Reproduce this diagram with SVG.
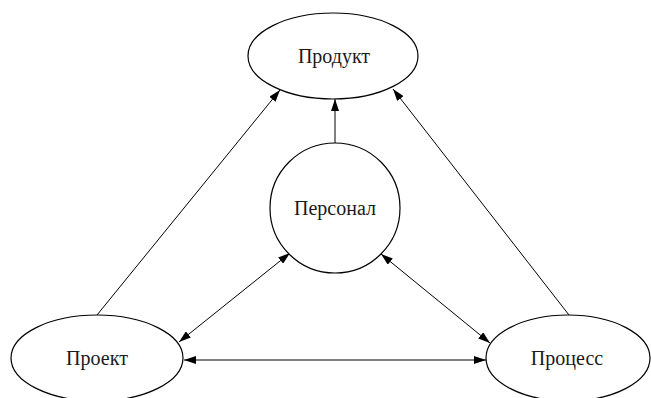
<svg xmlns="http://www.w3.org/2000/svg" width="651" height="398" viewBox="0 0 651 398">
<defs>
<style>
.node{fill:#fff;stroke:#000;stroke-width:1.2}
.lbl{font-family:"Liberation Serif","Times New Roman",serif;font-size:20px;fill:#1a1a1a;text-anchor:middle}
.edge{stroke:#000;stroke-width:1;fill:none}
</style>
<marker id="ah" viewBox="0 0 12 8" refX="12" refY="4" markerWidth="12" markerHeight="8" markerUnits="userSpaceOnUse" orient="auto-start-reverse">
<path d="M0,0 L12,4 L0,8 z" fill="#000"/>
</marker>
</defs>
<rect width="651" height="398" fill="#fff"/>
<g id="connectors">
<line class="edge" x1="97" y1="315" x2="280" y2="90" marker-end="url(#ah)"/>
<line class="edge" x1="569" y1="315" x2="393" y2="89" marker-end="url(#ah)"/>
<line class="edge" x1="335" y1="143" x2="335" y2="99" stroke-width="2" marker-end="url(#ah)"/>
<line class="edge" x1="179" y1="342" x2="290" y2="253" marker-start="url(#ah)" marker-end="url(#ah)"/>
<line class="edge" x1="381" y1="254" x2="490" y2="343" marker-start="url(#ah)" marker-end="url(#ah)"/>
<line class="edge" x1="184" y1="360" x2="486" y2="360" marker-start="url(#ah)" marker-end="url(#ah)"/>
</g>
<g id="product">
<ellipse class="node" cx="333" cy="56" rx="85" ry="43"/>
<text class="lbl" x="334" y="63">Продукт</text>
</g>
<g id="personnel">
<circle class="node" cx="335" cy="208" r="65"/>
<text class="lbl" x="335" y="215">Персонал</text>
</g>
<g id="project">
<ellipse class="node" cx="97" cy="358" rx="86" ry="43"/>
<text class="lbl" x="97" y="365">Проект</text>
</g>
<g id="process">
<ellipse class="node" cx="568" cy="358" rx="82" ry="43"/>
<text class="lbl" x="567" y="365">Процесс</text>
</g>
</svg>
